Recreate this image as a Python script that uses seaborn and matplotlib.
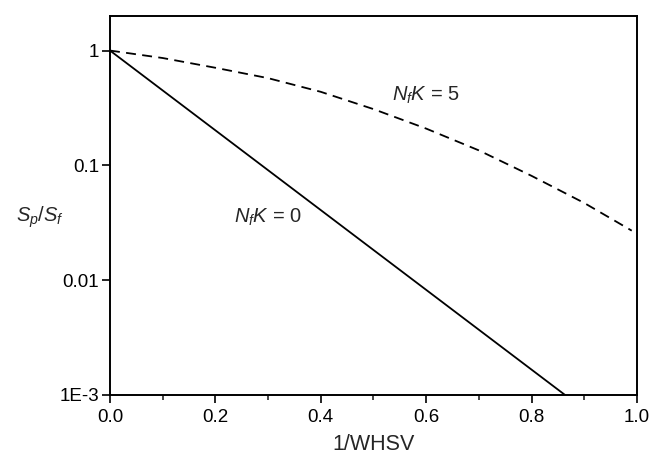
import matplotlib
matplotlib.use("Agg")
import matplotlib.pyplot as plt
import matplotlib.ticker as mticker
import seaborn as sns
import pandas as pd

# data
x_nk0 = [0.0, 0.8635]
y_nk0 = [1.0, 0.001]
x_nk5 = [0.0, 0.1, 0.2, 0.3, 0.4, 0.5, 0.6, 0.7, 0.8, 0.9, 0.99]
y_nk5 = [1.0, 0.861, 0.708, 0.575, 0.437, 0.309, 0.209, 0.135, 0.081, 0.047, 0.027]
x_ticks = [0.0, 0.2, 0.4, 0.6, 0.8, 1.0]
x_ticklabels = ["0.0", "0.2", "0.4", "0.6", "0.8", "1.0"]
y_ticks = [1, 0.1, 0.01, 0.001]
y_ticklabels = ["1", "0.1", "0.01", "1E-3"]

sns.set_style("ticks")
plt.rcParams['font.family'] = ['Liberation Sans', 'DejaVu Sans']
plt.rcParams['mathtext.fontset'] = 'custom'
plt.rcParams['mathtext.rm'] = 'Liberation Sans'
plt.rcParams['mathtext.it'] = 'Liberation Sans:italic'

fig = plt.figure(figsize=(6.52, 4.57), dpi=100)
ax = fig.add_axes([0.1687, 0.1357, 0.977 - 0.1687, 0.965 - 0.1357])

df0 = pd.DataFrame({"x": x_nk0, "y": y_nk0})
df5 = pd.DataFrame({"x": x_nk5, "y": y_nk5})
sns.lineplot(data=df0, x="x", y="y", ax=ax, color="black", lw=1.3)
sns.lineplot(data=df5, x="x", y="y", ax=ax, color="black", lw=1.3, linestyle=(0, (5.5, 3.5)))

ax.set_yscale("log")
ax.set_xlim(0, 1.0)
ax.set_ylim(0.001, 2.0)
ax.set_xticks(x_ticks)
ax.set_xticklabels(x_ticklabels)
ax.xaxis.set_minor_locator(mticker.MultipleLocator(0.1))
ax.set_yticks(y_ticks)
ax.set_yticklabels(y_ticklabels)
ax.yaxis.set_minor_locator(mticker.NullLocator())

for s in ax.spines.values():
    s.set_linewidth(1.4)
    s.set_color("black")
ax.tick_params(axis="both", which="major", direction="out", length=6, width=1.2,
               labelsize=13.5, colors="black", pad=2)
ax.tick_params(axis="x", which="major", pad=4)
ax.tick_params(axis="x", which="minor", direction="out", length=3.5, width=1.2)

ax.set_xlabel("1/WHSV", fontsize=15.5, labelpad=6)
ax.set_ylabel(r"$S_p/S_f$", fontsize=14.5, rotation=0, labelpad=0, va="center", ha="center")
ax.yaxis.set_label_coords(-0.133, 0.47)

ax.text(0.535, 0.41, r"$N_fK$ = 5", fontsize=14.5, va="center", ha="left")
ax.text(0.235, 0.035, r"$N_fK$ = 0", fontsize=14.5, va="center", ha="left")

fig.savefig("out.png", dpi=100)
